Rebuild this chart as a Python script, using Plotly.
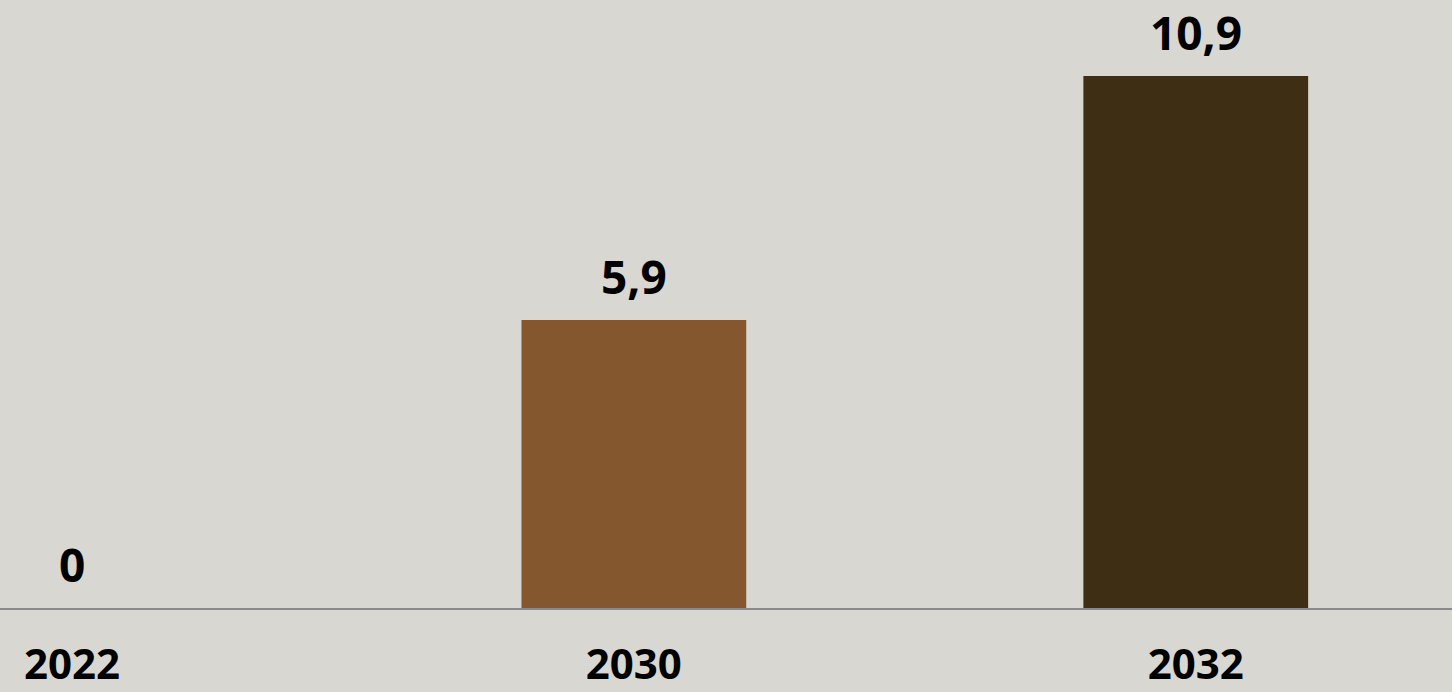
import plotly.graph_objects as go

# data
years = ["2022", "2030", "2032"]
values = [0, 5.9, 10.9]
labels = ["0", "5,9", "10,9"]
colors = ["#84572f", "#84572f", "#3e2e13"]

font_family = "Open Sans, Lato, sans-serif"

fig = go.Figure(go.Bar(x=years,
                       y=values,
                       marker_color=colors,
                       marker_line_width=0,
                       width=0.4,
                       hoverinfo="skip"))

# value labels above the bars (x given as category index)
for i, (v, t) in enumerate(zip(values, labels)):
    fig.add_annotation(x=i, y=v, xref="x", yref="y",
                       text="<b>" + t + "</b>",
                       showarrow=False, yanchor="bottom", yshift=11,
                       font=dict(family=font_family, size=46, color="#000000"))

fig.update_layout(width=1452, height=692,
                  margin=dict(l=0, r=0, t=0, b=84, autoexpand=False),
                  paper_bgcolor="#d9d7d1",
                  plot_bgcolor="#d9d7d1",
                  showlegend=False)
fig.update_xaxes(type="category", range=[-0.128, 2.456],
                 showline=True, linecolor="#8a8a8a", linewidth=2,
                 showgrid=False, ticks="", automargin=False,
                 ticklabelstandoff=19,
                 tickfont=dict(family=font_family, size=42, color="#000000"),
                 tickprefix="<b>", ticksuffix="</b>")
fig.update_yaxes(range=[0, 12.46], showticklabels=False, ticks="",
                 showgrid=False, zeroline=False, showline=False)

fig.write_html("out.html", config={"displayModeBar": False},
               post_script="document.body.style.margin='0';document.body.style.overflow='hidden';")
